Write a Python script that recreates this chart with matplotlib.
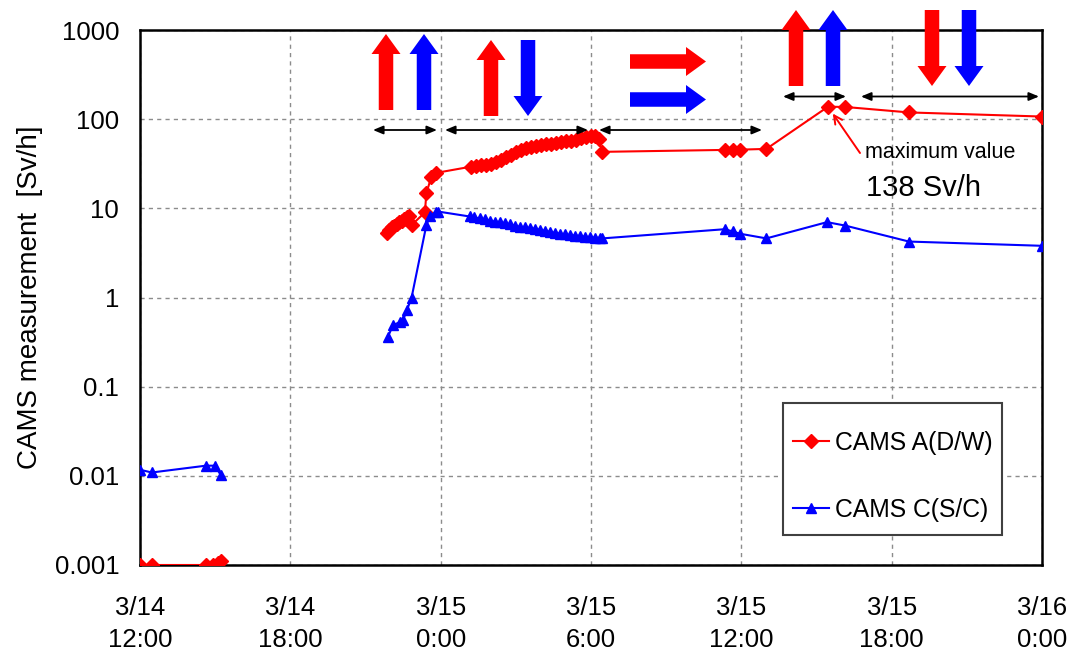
import numpy as np
import matplotlib
matplotlib.use("Agg")
import matplotlib.pyplot as plt
from matplotlib.patches import FancyArrow, Rectangle

plt.rcParams['font.family'] = ['Liberation Sans', 'DejaVu Sans']

# ---------------- data (hours after 3/14 12:00) ----------------
nan = np.nan
cams_a_hours = [0.0, 0.47, 2.63, 2.93, 3.1, 3.25, nan,
                9.84, 9.95, 10.05, 10.15, 10.25, 10.35, 10.45, 10.55, 10.65, 10.72,
                10.84, 11.37, 11.43, 11.63, 11.83,
                13.23, 13.4, 13.6, 13.8, 14.0, 14.2, 14.4, 14.6, 14.8, 15.0, 15.2,
                15.4, 15.6, 15.8, 16.0, 16.2, 16.4, 16.6, 16.8, 17.0, 17.2, 17.4,
                17.6, 17.8, 18.0, 18.15, 18.3, 18.45,
                23.33, 23.67, 23.93, 25.0, 27.46, 28.15, 30.69, 36.0]
cams_a_values = [0.001, 0.001, 0.001, 0.001, 0.00105, 0.0011, nan,
                 5.3, 5.7, 6.1, 6.4, 6.7, 7.0, 7.3, 7.6, 7.9, 8.1,
                 6.5, 9.0, 14.8, 22.7, 25.0,
                 29.4, 29.8, 30.3, 30.9, 31.8, 33.0, 35.0, 37.5, 40.0, 42.5, 45.0,
                 47.0, 48.7, 50.0, 51.2, 52.3, 53.3, 54.3, 55.3, 56.3, 57.3, 58.3,
                 61.0, 63.0, 65.0, 64.0, 60.0, 43.0,
                 45.2, 45.5, 45.5, 46.4, 138.0, 137.0, 119.0, 107.0]

cams_c_hours = [0.0, 0.47, 2.63, 3.0, 3.22, nan,
                9.9, 10.1, 10.37, 10.5, 10.66, 10.84, 11.43, 11.57, 11.8, 11.9,
                13.16, 13.35, 13.55, 13.75, 13.95, 14.15, 14.35, 14.55, 14.75, 14.95,
                15.15, 15.35, 15.55, 15.75, 15.95, 16.15, 16.35, 16.55, 16.75, 16.95,
                17.15, 17.35, 17.55, 17.75, 17.95, 18.15, 18.35, 18.45,
                23.33, 23.67, 23.93, 25.0, 27.42, 28.15, 30.69, 36.0]
cams_c_values = [0.0117, 0.0109, 0.013, 0.013, 0.0102, nan,
                 0.365, 0.49, 0.53, 0.56, 0.73, 1.0, 6.5, 8.1, 9.2, 9.2,
                 8.1, 7.9, 7.7, 7.5, 7.3, 7.1, 7.0, 6.8, 6.6, 6.4,
                 6.2, 6.1, 6.0, 5.9, 5.75, 5.6, 5.45, 5.3, 5.2, 5.1,
                 5.0, 4.95, 4.9, 4.8, 4.75, 4.7, 4.65, 4.6,
                 5.83, 5.5, 5.2, 4.6, 7.0, 6.4, 4.24, 3.8]

tick_hours = [0, 6, 12, 18, 24, 30, 36]
tick_labels = ["3/14\n12:00", "3/14\n18:00", "3/15\n0:00", "3/15\n6:00",
               "3/15\n12:00", "3/15\n18:00", "3/16\n0:00"]
y_ticks = [0.001, 0.01, 0.1, 1, 10, 100, 1000]
y_labels = ["0.001", "0.01", "0.1", "1", "10", "100", "1000"]

label_a = "CAMS A(D/W)"
label_c = "CAMS C(S/C)"
max_label = "maximum value"
max_value_text = "138 Sv/h"
max_hour = 27.46
max_value = 138.0

# ---------------- figure ----------------
W, H = 1077, 657
fig = plt.figure(figsize=(W / 100, H / 100), dpi=100)
ax = fig.add_axes([140 / W, 1 - 565 / H, 902 / W, 535 / H])

ax.plot(cams_a_hours, cams_a_values, color='#ff0000', lw=1.5, marker='D',
        markersize=6.8, label=label_a, zorder=3)
ax.plot(cams_c_hours, cams_c_values, color='#0000ff', lw=1.5, marker='^',
        markersize=7.5, label=label_c, zorder=3)

ax.set_yscale('log')
ax.set_ylim(0.001, 1000)
ax.set_xlim(0, 36)
ax.set_yticks(y_ticks)
ax.set_yticklabels(y_labels)
ax.yaxis.set_minor_locator(matplotlib.ticker.NullLocator())
ax.set_xticks(tick_hours)
ax.set_xticklabels(tick_labels, linespacing=1.45)
ax.tick_params(axis='both', length=0, labelsize=18.5, colors='#000000')
ax.tick_params(axis='x', pad=22)
ax.tick_params(axis='y', pad=15)
ax.grid(True, which='major', color='#8c8c8c', linestyle=(0, (3, 3)), lw=1.0)
for s in ax.spines.values():
    s.set_linewidth(1.8)
    s.set_color('#000000')
ax.set_ylabel("CAMS measurement  [Sv/h]", fontsize=20, labelpad=8)

# legend with a square frame
leg_box = Rectangle((0.713, 0.056), 0.243, 0.247, transform=ax.transAxes,
                    facecolor='white', edgecolor='#404040', lw=1.5, zorder=4)
ax.add_patch(leg_box)
leg = ax.legend(loc='center', bbox_to_anchor=(0.8345, 0.166), frameon=False,
                fontsize=17.8, labelspacing=1.75, handlelength=1.45,
                handletextpad=0.25, borderpad=0.2)
leg.set_zorder(5)

# ---------------- annotation overlay (pixel coordinates) ----------------
ov = fig.add_axes([0, 0, 1, 1], zorder=10)
ov.set_xlim(0, W)
ov.set_ylim(H, 0)
ov.axis('off')

RED, BLUE = '#ff0000', '#0000ff'
def fat_arrow(x, y, dx, dy, color):
    ov.add_patch(FancyArrow(x, y, dx, dy, width=14.5, head_width=29,
                            head_length=20, length_includes_head=True,
                            color=color, lw=0))

fat_arrow(386, 110, 0, -76, RED)
fat_arrow(424, 110, 0, -76, BLUE)
fat_arrow(491, 116, 0, -76, RED)
fat_arrow(528, 40, 0, 76, BLUE)
fat_arrow(630, 61.5, 76, 0, RED)
fat_arrow(630, 99.5, 76, 0, BLUE)
fat_arrow(796, 86, 0, -76, RED)
fat_arrow(833, 86, 0, -76, BLUE)
fat_arrow(932, 10, 0, 76, RED)
fat_arrow(969, 10, 0, 76, BLUE)

for (x0, x1, y) in [(373, 437, 130), (445, 588, 130), (599, 762, 130),
                    (783, 846, 96.5), (861, 1039, 96.5)]:
    ov.annotate('', xy=(x1, y), xytext=(x0, y),
                arrowprops=dict(arrowstyle='<|-|>,head_length=0.6,head_width=0.25',
                                color='black', lw=1.3, shrinkA=0, shrinkB=0))

ov.annotate('', xy=(max_hour, max_value), xycoords=ax.transData,
            xytext=(860, 153), textcoords=ov.transData,
            arrowprops=dict(arrowstyle='->,head_length=0.6,head_width=0.3',
                            color=RED, lw=1.4, shrinkA=0, shrinkB=6))
ov.text(865, 153, max_label, fontsize=15.5, va='center', ha='left')
ov.text(866, 188, max_value_text, fontsize=21, va='center', ha='left')

fig.savefig("out.png", dpi=100)
